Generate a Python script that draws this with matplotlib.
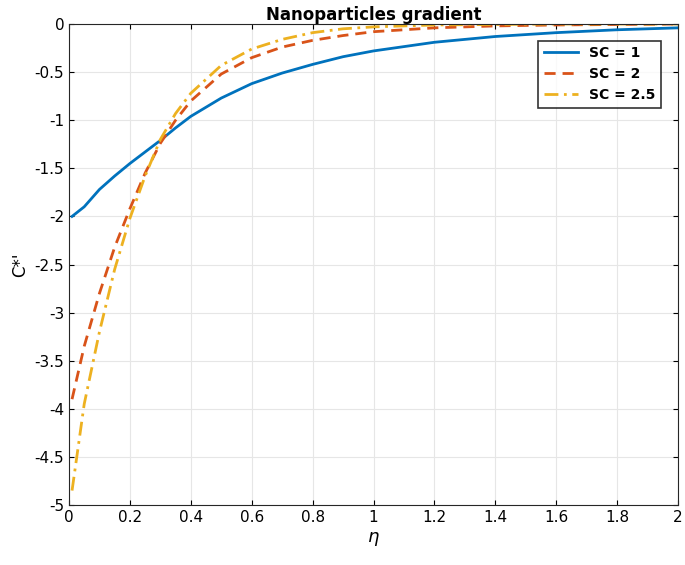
import matplotlib
matplotlib.use("Agg")
import matplotlib.pyplot as plt

eta = [0.01, 0.05, 0.1, 0.15, 0.2, 0.25, 0.3, 0.35, 0.4, 0.5, 0.6, 0.7, 0.8, 0.9, 1.0, 1.2, 1.4, 1.6, 1.8, 2.0]
sc1 = [-2.0, -1.9, -1.72, -1.58, -1.45, -1.33, -1.21, -1.08, -0.96, -0.77, -0.62, -0.51, -0.42, -0.34, -0.28, -0.19, -0.13, -0.09, -0.06, -0.04]
sc2 = [-3.9, -3.35, -2.8, -2.32, -1.92, -1.55, -1.24, -1.0, -0.8, -0.52, -0.35, -0.24, -0.17, -0.12, -0.08, -0.04, -0.02, -0.01, -0.005, 0.0]
sc25 = [-4.85, -3.95, -3.2, -2.55, -2.02, -1.58, -1.2, -0.93, -0.72, -0.43, -0.26, -0.16, -0.09, -0.05, -0.03, -0.01, -0.005, 0.0, 0.0, 0.0]
labels = ["SC = 1", "SC = 2", "SC = 2.5"]

fig = plt.figure(figsize=(6.85, 5.65), dpi=100)
ax = fig.add_axes([69/685, 60/565, 609/685, 481/565])
ax.plot(eta, sc1, color="#0072BD", lw=2, ls="-", label=labels[0])
ax.plot(eta, sc2, color="#D95319", lw=2, ls=(0, (4, 2.5)), label=labels[1])
ax.plot(eta, sc25, color="#EDB120", lw=2, ls=(0, (5, 2, 1, 2)), label=labels[2])
ax.set_xlim(0, 2)
ax.set_ylim(-5, 0)
ax.set_xticks([i * 0.2 for i in range(11)])
ax.set_xticklabels(["0", "0.2", "0.4", "0.6", "0.8", "1", "1.2", "1.4", "1.6", "1.8", "2"])
ax.set_yticks([-5 + 0.5 * i for i in range(11)])
ax.set_yticklabels(["-5", "-4.5", "-4", "-3.5", "-3", "-2.5", "-2", "-1.5", "-1", "-0.5", "0"])
ax.grid(True, color="#e6e6e6", lw=0.8)
ax.tick_params(direction="in", labelsize=11, top=True, right=True)
for s in ax.spines.values():
    s.set_color("#262626")
ax.set_xlabel(r"$\eta$", fontsize=13)
ax.set_ylabel("C*'", fontsize=12)
ax.set_title("Nanoparticles gradient", fontsize=12, fontweight="bold", pad=3)
leg = ax.legend(loc="upper right", fancybox=False, edgecolor="black", fontsize=10,
                prop={"weight": "bold", "size": 10}, handlelength=2.5, borderaxespad=1.2)
leg.get_frame().set_linewidth(1.2)
fig.savefig("out.png", dpi=100)
